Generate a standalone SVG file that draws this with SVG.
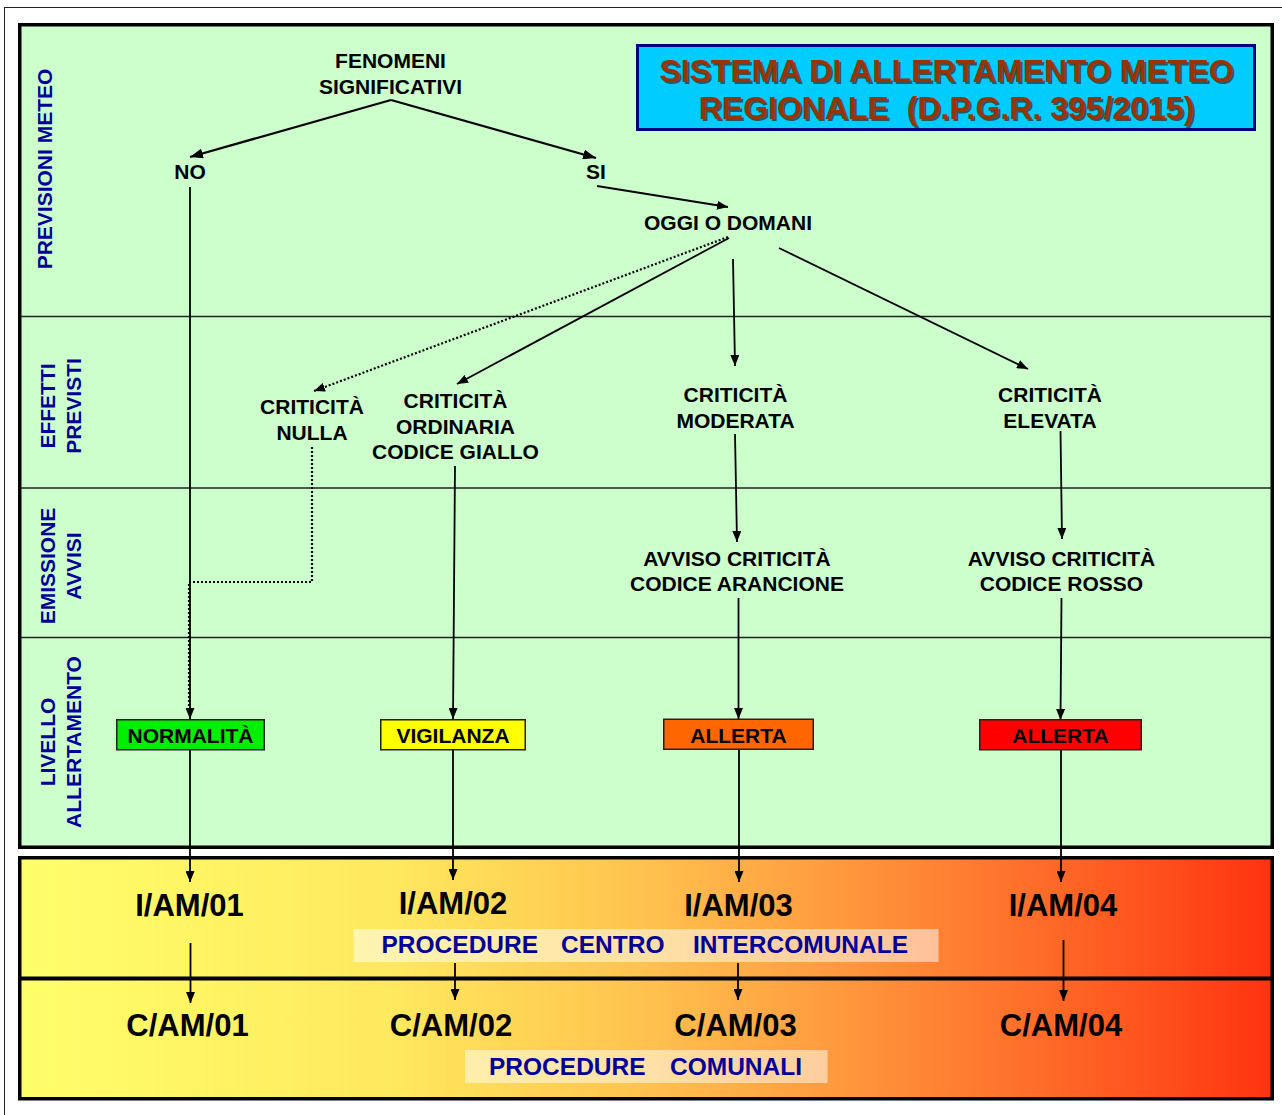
<svg xmlns="http://www.w3.org/2000/svg" width="1282" height="1115" viewBox="0 0 1282 1115">
<defs>
<linearGradient id="grad" x1="20" y1="0" x2="1273" y2="0" gradientUnits="userSpaceOnUse">
<stop offset="0" stop-color="#FFFF6A"/>
<stop offset="0.3" stop-color="#FFE85E"/>
<stop offset="0.5" stop-color="#FFC24E"/>
<stop offset="0.62" stop-color="#FFA242"/>
<stop offset="0.82" stop-color="#FF6A28"/>
<stop offset="1" stop-color="#FF3310"/>
</linearGradient>
<marker id="ah" markerWidth="11" markerHeight="9" refX="11" refY="4.5" orient="auto" markerUnits="userSpaceOnUse"><path d="M0,0 L11,4.5 L0,9 z" fill="#000"/></marker>
<marker id="ahb" markerWidth="13" markerHeight="10" refX="13" refY="5" orient="auto" markerUnits="userSpaceOnUse"><path d="M0,0 L13,5 L0,10 z" fill="#000"/></marker>
</defs>
<style>
text{font-family:"Liberation Sans",Arial,sans-serif;font-weight:bold}
.lbl{font-size:21px;fill:#000;text-anchor:middle}
.side{font-size:21px;fill:#000099;text-anchor:middle}
.code{font-size:31px;fill:#000;text-anchor:middle}
.proc{font-size:24.5px;fill:#000099}
.title{font-size:32px;text-anchor:middle;white-space:pre}
.ln{stroke:#000;stroke-width:1.8;fill:none}
.lnb{stroke:#000;stroke-width:2.3;fill:none}
.dot{stroke:#000;stroke-width:2.2;stroke-dasharray:2 2;fill:none}
.box{stroke:#222;stroke-width:1.5}
.row{stroke:#222;stroke-width:1.3}
</style>
<rect x="0" y="0" width="1282" height="1115" fill="#fff"/>
<rect x="4.5" y="7.5" width="1290" height="1120" fill="none" stroke="#222" stroke-width="1"/>

<g id="panel">
<rect x="19.75" y="24.75" width="1252.5" height="822.5" fill="#CCFFCC" stroke="#000" stroke-width="3.5"/>
<line class="row" x1="21" y1="316.5" x2="1272" y2="316.5"/>
<line class="row" x1="21" y1="488" x2="1272" y2="488"/>
<line class="row" x1="21" y1="637.5" x2="1272" y2="637.5"/>
</g>

<g id="procpanel">
<rect x="19.75" y="857.75" width="1252.5" height="241" fill="url(#grad)" stroke="#000" stroke-width="3.5"/>
<line x1="20" y1="978.5" x2="1272" y2="978.5" stroke="#000" stroke-width="4"/>
</g>

<g id="side-labels">
<text class="side" transform="translate(52,169) rotate(-90)">PREVISIONI METEO</text>
<text class="side" transform="translate(55,406) rotate(-90)">EFFETTI</text>
<text class="side" transform="translate(81,406) rotate(-90)">PREVISTI</text>
<text class="side" transform="translate(55,566) rotate(-90)">EMISSIONE</text>
<text class="side" transform="translate(81,566) rotate(-90)">AVVISI</text>
<text class="side" transform="translate(55,742) rotate(-90)">LIVELLO</text>
<text class="side" transform="translate(81,742) rotate(-90)">ALLERTAMENTO</text>
</g>

<g id="title">
<rect x="637.5" y="45.5" width="617" height="84" fill="#00CCFF" stroke="#000080" stroke-width="3"/>
<text class="title" x="948.5" y="84" fill="#333" fill-opacity="0.75">SISTEMA DI ALLERTAMENTO METEO</text>
<text class="title" x="948.5" y="121" fill="#333" fill-opacity="0.75">REGIONALE  (D.P.G.R. 395/2015)</text>
<text class="title" x="946.5" y="82" fill="#993300">SISTEMA DI ALLERTAMENTO METEO</text>
<text class="title" x="946.5" y="119" fill="#993300">REGIONALE  (D.P.G.R. 395/2015)</text>
</g>

<g id="connectors">
<path class="lnb" d="M391,100 L190,157" marker-end="url(#ahb)"/>
<path class="lnb" d="M391,100 L596,158" marker-end="url(#ahb)"/>
<path class="ln" d="M597,186 L728,207" marker-end="url(#ah)"/>
<path class="dot" d="M728,237 L314,391" marker-end="url(#ah)"/>
<path class="ln" d="M729,238 L457,384" marker-end="url(#ah)"/>
<path class="ln" d="M733,259 L735,366" marker-end="url(#ah)"/>
<path class="ln" d="M779,248 L1028,369" marker-end="url(#ah)"/>
<path class="ln" d="M190,187 L190,719" marker-end="url(#ah)"/>
<path class="dot" d="M312,447 L312,582 L189,582 L189,712"/>
<path class="ln" d="M455,466 L453,719" marker-end="url(#ah)"/>
<path class="ln" d="M735,434 L737,542" marker-end="url(#ah)"/>
<path class="ln" d="M738.5,598 L738.5,719" marker-end="url(#ah)"/>
<path class="ln" d="M1060.5,431 L1062,539" marker-end="url(#ah)"/>
<path class="ln" d="M1061.5,598 L1060.5,720" marker-end="url(#ah)"/>
<path class="ln" d="M190,750 L190,882" marker-end="url(#ah)"/>
<path class="ln" d="M453,750 L453,880" marker-end="url(#ah)"/>
<path class="ln" d="M739,750 L739,882" marker-end="url(#ah)"/>
<path class="ln" d="M1061,750 L1061,882" marker-end="url(#ah)"/>
<path class="ln" d="M190.5,943 L190.5,1003" marker-end="url(#ah)"/>
<path class="ln" d="M455,963 L455,1000" marker-end="url(#ah)"/>
<path class="ln" d="M738,963 L738,1000" marker-end="url(#ah)"/>
<path class="ln" d="M1063.5,940 L1063.5,1001" marker-end="url(#ah)"/>
</g>

<g id="fenomeni"><text class="lbl" x="390.5" y="68">FENOMENI</text><text class="lbl" x="390.5" y="94">SIGNIFICATIVI</text></g>
<g id="no"><text class="lbl" x="190" y="179">NO</text></g>
<g id="si"><text class="lbl" x="596" y="179">SI</text></g>
<g id="oggi"><text class="lbl" x="728" y="230">OGGI O DOMANI</text></g>
<g id="crit-nulla"><text class="lbl" x="312" y="414">CRITICITÀ</text><text class="lbl" x="312" y="440">NULLA</text></g>
<g id="crit-ordinaria"><text class="lbl" x="455.5" y="408">CRITICITÀ</text><text class="lbl" x="455.5" y="433.5">ORDINARIA</text><text class="lbl" x="455.5" y="459">CODICE GIALLO</text></g>
<g id="crit-moderata"><text class="lbl" x="735.5" y="402">CRITICITÀ</text><text class="lbl" x="735.5" y="428">MODERATA</text></g>
<g id="crit-elevata"><text class="lbl" x="1050" y="402">CRITICITÀ</text><text class="lbl" x="1050" y="428">ELEVATA</text></g>
<g id="avviso-arancione"><text class="lbl" x="737" y="566">AVVISO CRITICITÀ</text><text class="lbl" x="737" y="591">CODICE ARANCIONE</text></g>
<g id="avviso-rosso"><text class="lbl" x="1061.5" y="566">AVVISO CRITICITÀ</text><text class="lbl" x="1061.5" y="591">CODICE ROSSO</text></g>

<g id="normalita"><rect class="box" x="116.75" y="719.75" width="147.5" height="30" fill="#00EE00"/><text class="lbl" x="190.5" y="743">NORMALITÀ</text></g>
<g id="vigilanza"><rect class="box" x="380.75" y="719.75" width="144.5" height="30" fill="#FFFF00"/><text class="lbl" x="453" y="743">VIGILANZA</text></g>
<g id="allerta-arancione"><rect class="box" x="663.75" y="719.25" width="149.5" height="30" fill="#FF6600"/><text class="lbl" x="738.5" y="742.5">ALLERTA</text></g>
<g id="allerta-rossa"><rect class="box" x="979.75" y="719.75" width="161.5" height="30" fill="#FF0000"/><text class="lbl" x="1060.5" y="743">ALLERTA</text></g>

<g id="iam01"><text class="code" x="189.5" y="915.5">I/AM/01</text></g>
<g id="iam02"><text class="code" x="453" y="913.5">I/AM/02</text></g>
<g id="iam03"><text class="code" x="738.5" y="915.5">I/AM/03</text></g>
<g id="iam04"><text class="code" x="1063" y="915.5">I/AM/04</text></g>
<g id="proc-centro">
<rect x="353.5" y="929" width="585" height="33" fill="#fff" fill-opacity="0.5"/>
<text class="proc" y="953"><tspan x="381.5">PROCEDURE</tspan><tspan x="561">CENTRO</tspan><tspan x="693">INTERCOMUNALE</tspan></text>
</g>
<g id="cam01"><text class="code" x="187.5" y="1036">C/AM/01</text></g>
<g id="cam02"><text class="code" x="451" y="1036">C/AM/02</text></g>
<g id="cam03"><text class="code" x="735.5" y="1036">C/AM/03</text></g>
<g id="cam04"><text class="code" x="1061" y="1036">C/AM/04</text></g>
<g id="proc-comunali">
<rect x="465" y="1050" width="362.5" height="33" fill="#fff" fill-opacity="0.5"/>
<text class="proc" y="1075"><tspan x="489">PROCEDURE</tspan><tspan x="670">COMUNALI</tspan></text>
</g>
</svg>
